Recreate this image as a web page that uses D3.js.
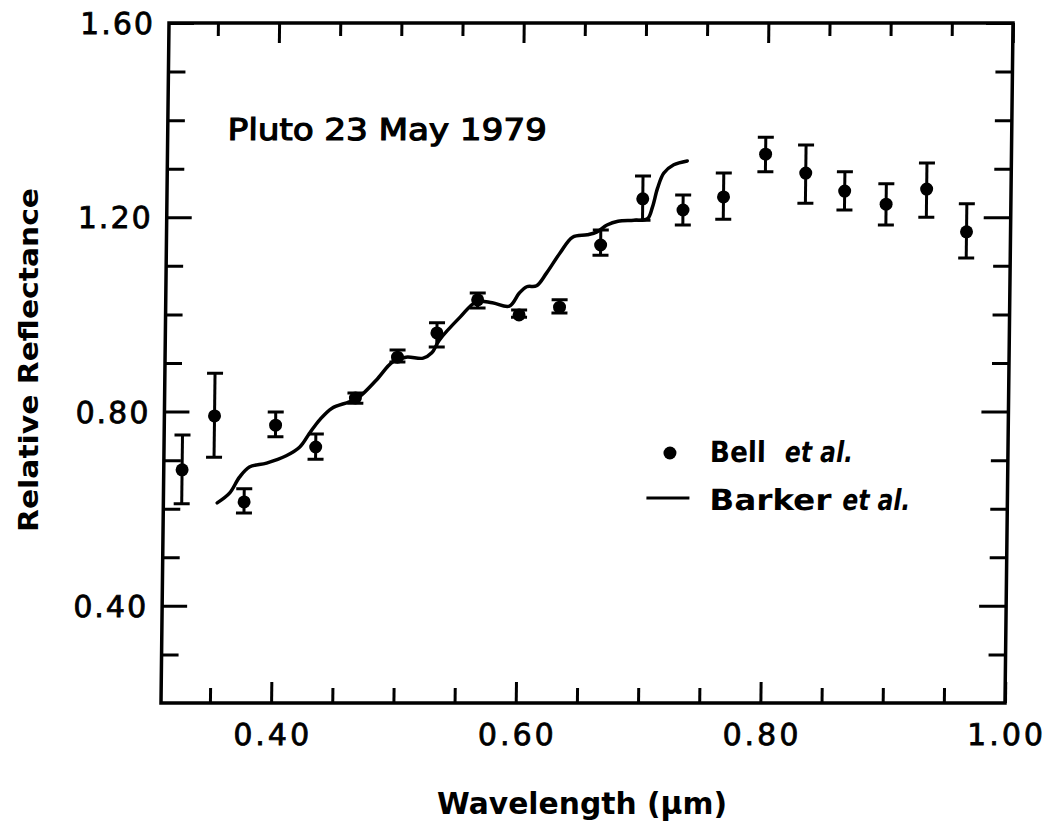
<!DOCTYPE html>
<html>
<head>
<meta charset="utf-8">
<script src="https://cdn.jsdelivr.net/npm/d3@7/dist/d3.min.js"></script>
<style>
    body { margin: 0; background: #ffffff; }
    svg text { fill: #000; }
</style>
</head>
<body>
<div id="chart"></div>
<script>

// Bell et al. - filter photometry with error bars
var bellWave = [0.325, 0.351, 0.376, 0.401, 0.434, 0.466, 0.500, 0.532, 0.565, 0.599, 0.632,
                0.665, 0.699, 0.732, 0.765, 0.799, 0.832, 0.864, 0.898, 0.931, 0.964];
var bellRefl = [0.680, 0.791, 0.614, 0.772, 0.727, 0.828, 0.912, 0.962, 1.030, 0.999, 1.015,
                1.143, 1.238, 1.215, 1.242, 1.330, 1.291, 1.254, 1.227, 1.258, 1.170];
var bellHigh = [0.752, 0.879, 0.641, 0.799, 0.754, 0.838, 0.927, 0.983, 1.044, 1.009, 1.030,
                1.174, 1.285, 1.246, 1.291, 1.365, 1.349, 1.294, 1.269, 1.312, 1.228];
var bellLow  = [0.610, 0.706, 0.591, 0.748, 0.702, 0.817, 0.902, 0.933, 1.013, 0.994, 1.003,
                1.122, 1.194, 1.184, 1.196, 1.294, 1.229, 1.215, 1.184, 1.200, 1.116];

// Barker et al. - continuous spectrum
var barkerWave = [0.354, 0.364, 0.372, 0.380, 0.394, 0.410, 0.421, 0.429, 0.437, 0.447,
                  0.461, 0.469, 0.483, 0.496, 0.507, 0.521, 0.528, 0.534, 0.551, 0.564,
                  0.577, 0.591, 0.599, 0.605, 0.613, 0.621, 0.632, 0.642, 0.654, 0.662,
                  0.670, 0.679, 0.692, 0.703, 0.707, 0.711, 0.716, 0.724, 0.735];
var barkerRefl = [0.612, 0.632, 0.665, 0.686, 0.694, 0.709, 0.727, 0.756, 0.783, 0.807,
                  0.820, 0.830, 0.865, 0.902, 0.912, 0.910, 0.921, 0.947, 0.995, 1.026,
                  1.024, 1.017, 1.044, 1.057, 1.059, 1.085, 1.127, 1.159, 1.164, 1.170,
                  1.184, 1.192, 1.194, 1.197, 1.221, 1.260, 1.291, 1.308, 1.316];

// axis ticks
var xMajorTicks = [0.40, 0.60, 0.80, 1.00];
var xMinorTicks = [0.35, 0.45, 0.50, 0.55, 0.65, 0.70, 0.75, 0.85, 0.90, 0.95];
var yMajorTicks = [0.40, 0.80, 1.20, 1.60];
var yMinorTicks = [0.30, 0.50, 0.60, 0.70, 0.90, 1.00, 1.10, 1.30, 1.40, 1.50];
var xTickLabels = ["0.40", "0.60", "0.80", "1.00"];
var yTickLabels = ["0.40", "0.80", "1.20", "1.60"];

var titleText = "Pluto 23 May 1979";
var legendNames = ["Bell", "Barker"];


var settings = {
    width : 1048,//px
    height : 828,//px

    left : 161,
    right : 1005,
    top : 23,
    bottom : 703,

    // the scan is slightly sheared, top edge sits ~8px right of bottom
    skew : -0.675,//deg

    font : "'DejaVu Sans', 'Liberation Sans', sans-serif",
    frameWidth : 3.5,
    tickWidth : 3,

    // legend text placement
    legendX : 707,
    legendRows : [462, 510],
    nameWidths : [56, 122],
    etalX : [782, 840],
    etalWidth : 68
};

var x = d3.scaleLinear().domain([0.31, 1.00]).range([settings.left, settings.right]);
var y = d3.scaleLinear().domain([0.20, 1.60]).range([settings.bottom, settings.top]);

var svg = d3.select("#chart").append("svg")
    .attr("width", settings.width)
    .attr("height", settings.height)
    .style("font-family", settings.font);

var g = svg.append("g")
    .attr("transform", "translate(0," + settings.bottom + ") skewX(" + settings.skew + ") translate(0," + (-settings.bottom) + ")");

// inward ticks on every side, long for major and short for minor
function addTicks(axisFn, scale, values, size, tx, ty){
    var ax = g.append("g")
        .attr("transform", "translate(" + tx + "," + ty + ")")
        .call(axisFn(scale).tickValues(values).tickSize(-size).tickFormat(""));
    ax.select(".domain").remove();
    ax.selectAll(".tick line").attr("stroke", "#000").attr("stroke-width", settings.tickWidth);
}

addTicks(d3.axisBottom, x, xMajorTicks, 21, 0, settings.bottom);
addTicks(d3.axisBottom, x, xMinorTicks, 15, 0, settings.bottom);
addTicks(d3.axisTop, x, xMajorTicks, 20, 0, settings.top);
addTicks(d3.axisTop, x, xMinorTicks, 13, 0, settings.top);
addTicks(d3.axisLeft, y, yMajorTicks, 25, settings.left, 0);
addTicks(d3.axisLeft, y, yMinorTicks, 17, settings.left, 0);
addTicks(d3.axisRight, y, yMajorTicks, 27, settings.right, 0);
addTicks(d3.axisRight, y, yMinorTicks, 17, settings.right, 0);

// frame
g.append("rect")
    .attr("x", settings.left)
    .attr("y", settings.top)
    .attr("width", settings.right - settings.left)
    .attr("height", settings.bottom - settings.top)
    .attr("fill", "none")
    .attr("stroke", "#000")
    .attr("stroke-width", settings.frameWidth);

// tick labels (a thin stroke makes the scanned digits look heavier)
g.selectAll(".xlab").data(xMajorTicks).enter().append("text")
    .attr("x", function(d){ return x(d) + 2; })
    .attr("y", 745)
    .attr("text-anchor", "middle")
    .attr("font-size", 30)
    .attr("letter-spacing", 3)
    .attr("stroke", "#000")
    .attr("stroke-width", 0.8)
    .text(function(d, i){ return xTickLabels[i]; });

g.selectAll(".ylab").data(yMajorTicks).enter().append("text")
    .attr("x", settings.left - 14)
    .attr("y", function(d){ return y(d) + 11; })
    .attr("text-anchor", "end")
    .attr("font-size", 30)
    .attr("letter-spacing", 2)
    .attr("stroke", "#000")
    .attr("stroke-width", 0.8)
    .text(function(d, i){ return yTickLabels[i]; });

// Barker et al. curve
var line = d3.line()
    .x(function(d){ return x(d[0]); })
    .y(function(d){ return y(d[1]); })
    .curve(d3.curveCatmullRom.alpha(0.5));

g.append("path")
    .datum(d3.zip(barkerWave, barkerRefl))
    .attr("d", line)
    .attr("fill", "none")
    .attr("stroke", "#000")
    .attr("stroke-width", 3.5)
    .attr("stroke-linejoin", "round")
    .attr("stroke-linecap", "round");

// Bell et al. points with error bars
var bell = g.selectAll(".bell").data(bellWave).enter().append("g");

bell.append("line")
    .attr("x1", function(d){ return x(d); })
    .attr("x2", function(d){ return x(d); })
    .attr("y1", function(d, i){ return y(bellHigh[i]); })
    .attr("y2", function(d, i){ return y(bellLow[i]); })
    .attr("stroke", "#000").attr("stroke-width", 3);

bell.append("line")
    .attr("x1", function(d){ return x(d) - 8; })
    .attr("x2", function(d){ return x(d) + 8; })
    .attr("y1", function(d, i){ return y(bellHigh[i]); })
    .attr("y2", function(d, i){ return y(bellHigh[i]); })
    .attr("stroke", "#000").attr("stroke-width", 3);

bell.append("line")
    .attr("x1", function(d){ return x(d) - 8; })
    .attr("x2", function(d){ return x(d) + 8; })
    .attr("y1", function(d, i){ return y(bellLow[i]); })
    .attr("y2", function(d, i){ return y(bellLow[i]); })
    .attr("stroke", "#000").attr("stroke-width", 3);

bell.append("circle")
    .attr("cx", function(d){ return x(d); })
    .attr("cy", function(d, i){ return y(bellRefl[i]); })
    .attr("r", 6.5)
    .attr("fill", "#000");

// title inside plot
g.append("text")
    .attr("x", 221)
    .attr("y", 140)
    .attr("font-size", 30)
    .attr("stroke", "#000")
    .attr("stroke-width", 1.2)
    .attr("textLength", 319)
    .attr("lengthAdjust", "spacingAndGlyphs")
    .text(titleText);

// legend
var legend = g.append("g");
legend.append("circle")
    .attr("cx", 667).attr("cy", 453).attr("r", 6.5).attr("fill", "#000");
legend.append("line")
    .attr("x1", 644).attr("x2", 687).attr("y1", 498).attr("y2", 498)
    .attr("stroke", "#000").attr("stroke-width", 3);

legendNames.forEach(function(name, i){
    legend.append("text")
        .attr("x", settings.legendX)
        .attr("y", settings.legendRows[i])
        .attr("font-size", 29)
        .attr("font-weight", "bold")
        .attr("textLength", settings.nameWidths[i])
        .attr("lengthAdjust", "spacingAndGlyphs")
        .text(name);
    legend.append("text")
        .attr("x", settings.etalX[i])
        .attr("y", settings.legendRows[i])
        .attr("font-size", 29)
        .attr("font-weight", "bold")
        .attr("font-style", "italic")
        .attr("textLength", settings.etalWidth)
        .attr("lengthAdjust", "spacingAndGlyphs")
        .text("et al.");
});

// axis titles (outside the sheared group)
svg.append("text")
    .attr("transform", "translate(38,360) rotate(-90)")
    .attr("text-anchor", "middle")
    .attr("font-size", 27)
    .attr("font-weight", "bold")
    .attr("textLength", 344)
    .attr("lengthAdjust", "spacingAndGlyphs")
    .text("Relative Reflectance");

svg.append("text")
    .attr("x", 582)
    .attr("y", 814)
    .attr("text-anchor", "middle")
    .attr("font-size", 31)
    .attr("font-weight", "bold")
    .attr("textLength", 290)
    .attr("lengthAdjust", "spacingAndGlyphs")
    .text("Wavelength (\u03bcm)");

</script>
</body>
</html>
